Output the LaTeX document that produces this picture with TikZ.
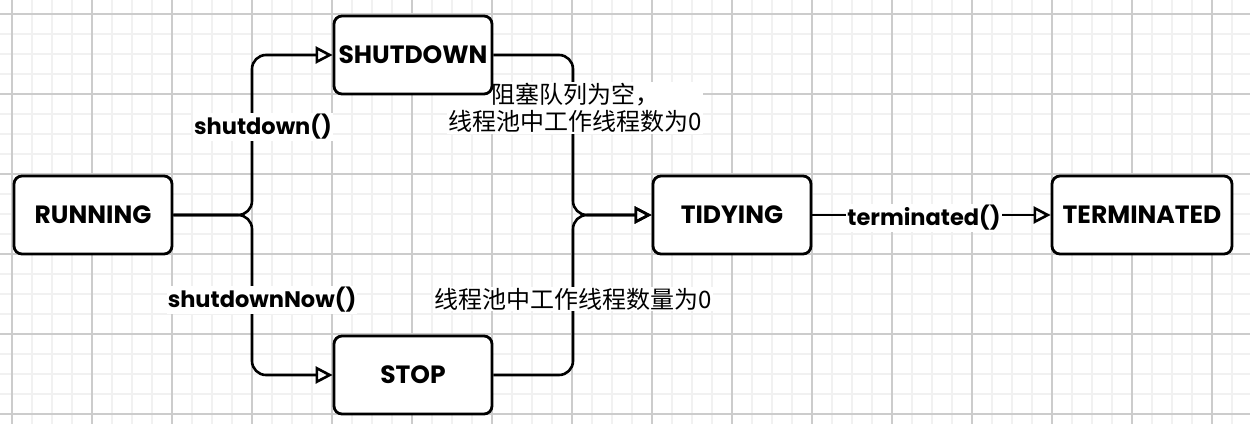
\documentclass[tikz,border=0pt]{standalone}
\usepackage{fontspec}
\setmainfont{Poppins}
\newfontfamily\cjk{Noto Sans CJK SC}
\usetikzlibrary{arrows.meta}
\definecolor{gminor}{HTML}{F1F1F1}
\definecolor{gmajor}{HTML}{CCCCCC}
\pgfdeclarelayer{fg}
\pgfsetlayers{main,fg}
\begin{document}
\begin{tikzpicture}[x=1pt,y=-1pt,
  minorline/.style={gminor,line width=1.2pt},
  majorline/.style={gmajor,line width=1.2pt},
  state/.style={draw,line width=2.8pt,rounded corners=8pt,fill=white,
    minimum width=158pt,minimum height=78pt,inner sep=0pt,
    font=\bfseries\fontsize{25}{29}\selectfont},
  conn/.style={line width=2.6pt,rounded corners=14pt},
  arr/.style={conn,-{Triangle[open,length=17pt,width=17pt]}},
  lab/.style={fill=white,inner sep=1pt,font=\bfseries\fontsize{22.5}{26}\selectfont},
  cjklab/.style={fill=white,inner sep=1pt,align=center,font=\cjk\fontsize{24}{27}\selectfont}]
\useasboundingbox (0,0) rectangle (1250,424);
\fill[white] (0,0) rectangle (1250,424);
\foreach \gx in {12,32,...,1250} \draw[minorline] (\gx,0) -- (\gx,424);
\foreach \gy in {14,34,...,424} \draw[minorline] (0,\gy) -- (1250,\gy);
\foreach \gx in {12,92,...,1250} \draw[majorline] (\gx,0) -- (\gx,424);
\foreach \gy in {14,94,...,424} \draw[majorline] (0,\gy) -- (1250,\gy);

\begin{pgfonlayer}{fg}
\node[state] (run) at (93,215) {RUNNING};
\node[state] (sd) at (413,55) {SHUTDOWN};
\node[state] (stop) at (413,375) {STOP};
\node[state] (td) at (732,215) {TIDYING};
\node[state,minimum width=180pt] (tm) at (1142,215) {TERMINATED};
\end{pgfonlayer}

\coordinate (j1) at (252,215);
\coordinate (j2) at (573,215);
\draw[arr] (run.east) -- (j1) |- (sd.west);
\draw[arr] (run.east) -- (j1) |- (stop.west);
\draw[arr] (sd.east) -| (j2) -- (td.west);
\draw[arr] (stop.east) -| (j2) -- (td.west);
\draw[arr] (td.east) -- (tm.west);

\node[lab] (l1) at (263,127) {shutdown()};
\node[lab] (l2) at (262,300) {shutdownNow()};
\node[lab] (l3) at (924,218) {terminated()};
\node[cjklab] (l4) at (575,108) {阻塞队列为空，\\线程池中工作线程数为0};
\node[cjklab] (l5) at (573,299) {线程池中工作线程数量为0};
\end{tikzpicture}
\end{document}
